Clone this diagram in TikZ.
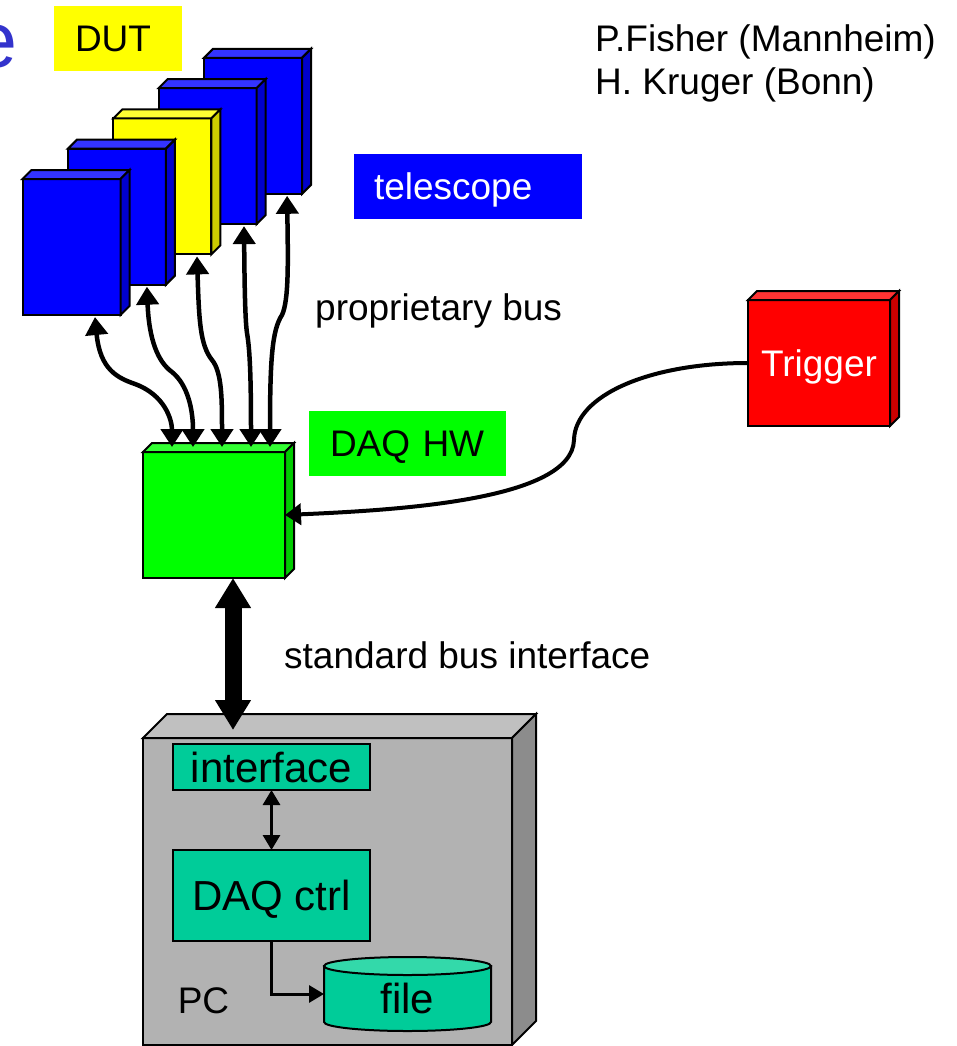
\documentclass[tikz,border=0pt]{standalone}
\usepackage{fontspec}
\setmainfont{Liberation Sans}
\usetikzlibrary{arrows.meta}

\definecolor{teleblue}{RGB}{0,0,255}
\definecolor{teletop}{RGB}{51,51,255}
\definecolor{teleside}{RGB}{0,0,204}
\definecolor{dutyellow}{RGB}{255,255,0}
\definecolor{duttop}{RGB}{255,255,51}
\definecolor{dutside}{RGB}{204,204,0}
\definecolor{hwgreen}{RGB}{0,255,0}
\definecolor{hwtop}{RGB}{51,255,51}
\definecolor{hwside}{RGB}{0,204,0}
\definecolor{trigred}{RGB}{255,0,0}
\definecolor{trigtop}{RGB}{255,51,51}
\definecolor{trigside}{RGB}{204,0,0}
\definecolor{pcgray}{RGB}{178,178,178}
\definecolor{pctop}{RGB}{192,192,192}
\definecolor{pcside}{RGB}{140,140,140}
\definecolor{swteal}{RGB}{0,204,153}
\definecolor{swtealtop}{RGB}{51,217,170}
\definecolor{titleblue}{RGB}{51,51,204}

\newcommand\setfs[1]{\fontsize{#1}{#1}\selectfont}

% top and right faces of a box drawn as a rectangle node
\newcommand\cubefaces[4]{%
  \filldraw[fill=#3,facedraw] (#1.north west) -- ++(#2,-#2)
    -- ([shift={(#2,-#2)}]#1.north east) -- (#1.north east) -- cycle;
  \filldraw[fill=#4,facedraw] (#1.north east) -- ++(#2,-#2)
    -- ([shift={(#2,-#2)}]#1.south east) -- (#1.south east) -- cycle;}

\tikzset{
  facedraw/.style={draw=black,line width=2pt,line join=miter},
  cube/.style={rectangle,draw=black,line width=2pt,outer sep=0pt,inner sep=0pt},
  plate/.style={cube,minimum width=98pt,minimum height=136pt},
  block/.style={cube,minimum width=142pt,minimum height=126pt},
  tag/.style={rectangle,draw=none,outer sep=0pt,minimum height=65pt,
    align=left,font=\setfs{37},text height=26.5pt,text depth=0pt},
  plain/.style={font=\setfs{37},inner sep=0pt},
  swbox/.style={cube,fill=swteal,font=\setfs{42},text height=30pt,text depth=0pt},
  bus/.style={line width=4.5pt,
    arrows={Triangle[length=18pt,width=22pt]-Triangle[length=18pt,width=22pt]}},
  bigbus/.style={line width=17pt,
    arrows={Triangle[length=30pt,width=34pt]-Triangle[length=30pt,width=34pt]}},
  link/.style={line width=3pt,
    arrows={Triangle[length=15pt,width=17pt]-Triangle[length=15pt,width=17pt]}},
  flow/.style={line width=3pt,arrows={-Triangle[length=15pt,width=17pt]}},
  trigline/.style={line width=4pt,arrows={-Triangle[length=16pt,width=21pt]}},
}

\begin{document}
\begin{tikzpicture}[x=1pt,y=-1pt]
\useasboundingbox (0,0) rectangle (956,1046);

% cut-off title letter
\node[anchor=base west,inner sep=0pt,font=\setfs{79},text=titleblue] (title) at (-27,68) {e};

% authors
\node[plain,anchor=base west] (auth1) at (595,52) {P.Fisher (Mannheim)};
\node[plain,anchor=base west] (auth2) at (595,95) {H. Kruger (Bonn)};

% telescope planes, back to front
\node[plate,fill=teleblue] (b5) at (253.1,125.8) {};
\cubefaces{b5}{9}{teletop}{teleside}
\node[plate,fill=teleblue] (b4) at (207.7,156.1) {};
\cubefaces{b4}{9}{teletop}{teleside}
\node[plate,fill=dutyellow] (b3) at (162.3,186.4) {};
\cubefaces{b3}{9}{duttop}{dutside}
\node[plate,fill=teleblue] (b2) at (116.9,216.7) {};
\cubefaces{b2}{9}{teletop}{teleside}
\node[plate,fill=teleblue] (b1) at (71.5,247) {};
\cubefaces{b1}{9}{teletop}{teleside}

% labels
\node[tag,fill=dutyellow,inner xsep=21pt,text width=86pt] (dut) at (118,38.5) {DUT};
\node[tag,fill=teleblue,text=white,inner xsep=20pt,text width=188pt] (tele) at (468,186.5) {telescope};
\node[tag,fill=hwgreen,inner xsep=21pt,text width=155pt] (hwtag) at (407.5,443.5) {DAQ HW};
\node[plain,anchor=base west] (propbus) at (315,320) {proprietary bus};
\node[plain,anchor=base west] (stdbus) at (284,668) {standard bus interface};

% DAQ hardware and trigger
\node[block,fill=hwgreen] (hw) at (214,515) {};
\cubefaces{hw}{9}{hwtop}{hwside}
\node[block,fill=trigred,font=\setfs{37},text=white,text height=26.5pt,text depth=0pt] (trig) at (819,363) {Trigger};
\cubefaces{trig}{9}{trigtop}{trigside}

% proprietary bus lines
\draw[bus] ([shift={(23.5,2)}]b1.south) .. controls (100,370) and (118,378) .. (135,384)
  .. controls (165,395) and (172,420) .. ([shift={(-42,-5)}]hw.north);
\draw[bus] ([shift={(30,2)}]b2.south) .. controls (149,340) and (158,362) .. (172,372)
  .. controls (188,385) and (193,410) .. ([shift={(-21,-5)}]hw.north);
\draw[bus] ([shift={(34.7,2)}]b3.south) .. controls (199,320) and (200,345) .. (212,360)
  .. controls (222,372) and (222,400) .. ([shift={(8,-5)}]hw.north);
\draw[bus] ([shift={(36.3,2)}]b4.south) .. controls (244.5,280) and (245,320) .. (247,333)
  .. controls (250,350) and (251,380) .. ([shift={(37,-5)}]hw.north);
\draw[bus] ([shift={(34,2)}]b5.south) .. controls (288,260) and (289,300) .. (282,315)
  .. controls (272,330) and (270,360) .. ([shift={(56,-5)}]hw.north);

% trigger cable
\draw[trigline] (trig.west) .. controls (650,363) and (575,395) .. (574,440)
  .. controls (572,500) and (400,510) .. (hw.east);

% PC
\node[cube,fill=pcgray,minimum width=369pt,minimum height=307pt] (pc) at (327.5,891.5) {};
\cubefaces{pc}{24}{pctop}{pcside}

\draw[bigbus] ([xshift=19pt]hw.south) -- ([shift={(-94.5,-8)}]pc.north);

\node[swbox,minimum width=197pt,minimum height=46pt] (iface) at (271.5,767) {interface};
\node[swbox,minimum width=197pt,minimum height=91pt] (ctrl) at (271.5,895.5) {DAQ ctrl};
\draw[link] (iface.south) -- (ctrl.north);

% file storage
\node[minimum width=167pt,minimum height=56pt,inner sep=0pt,outer sep=0pt] (file) at (407.5,994) {};
\filldraw[fill=swteal,facedraw] (file.north west) -- (file.south west)
  arc[start angle=180,end angle=0,x radius=83.5,y radius=9] -- (file.north east) -- cycle;
\filldraw[fill=swtealtop,facedraw] (file.north) ellipse[x radius=83.5,y radius=9];
\node[font=\setfs{42},text height=30pt,text depth=0pt,inner sep=0pt] (filetxt) at (407.5,998) {file};
\draw[flow] (ctrl.south) |- (file.west);

\node[plain,text height=25.8pt,text depth=0pt] (pclabel) at (203.5,1000.5) {PC};
\end{tikzpicture}
\end{document}
